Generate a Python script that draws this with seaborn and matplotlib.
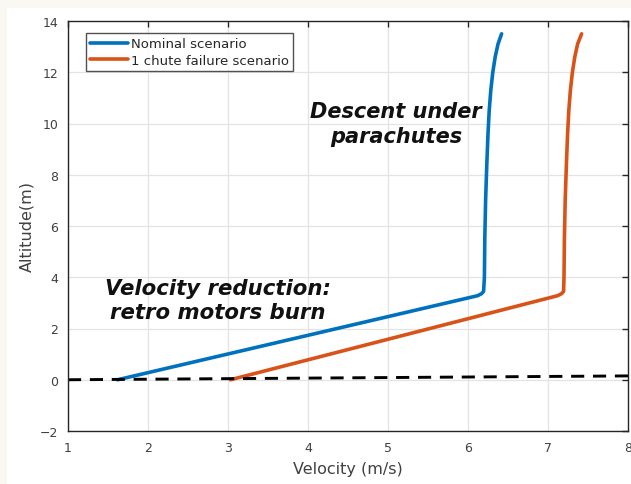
import matplotlib
matplotlib.use("Agg")
import matplotlib.pyplot as plt
import seaborn as sns
import pandas as pd
from matplotlib.patches import Rectangle

# Data
nominal_velocity = [1.62, 6.12, 6.17, 6.195, 6.205, 6.21, 6.22, 6.235, 6.25, 6.265, 6.285, 6.31, 6.34, 6.375, 6.42]
nominal_altitude = [0.0, 3.28, 3.36, 3.45, 4.0, 5.5, 7.0, 8.4, 9.6, 10.5, 11.3, 12.0, 12.6, 13.1, 13.5]
failure_velocity = [3.03, 7.12, 7.17, 7.195, 7.2, 7.205, 7.215, 7.23, 7.245, 7.26, 7.28, 7.305, 7.335, 7.37, 7.42]
failure_altitude = [0.0, 3.28, 3.36, 3.45, 4.0, 5.5, 7.0, 8.4, 9.6, 10.5, 11.3, 12.0, 12.6, 13.1, 13.5]
ground_velocity = [1.0, 8.0]
ground_altitude = [0.0, 0.15]

series_names = ["Nominal scenario", "1 chute failure scenario"]
x_ticks = [1, 2, 3, 4, 5, 6, 7, 8]
y_ticks = [-2, 0, 2, 4, 6, 8, 10, 12, 14]

sns.set_style("white")
plt.rcParams["font.family"] = ["DejaVu Sans"]

fig = plt.figure(figsize=(6.31, 4.85), dpi=100, facecolor="#f9f8f2")
fig.patches.append(Rectangle((7 / 631, 0), 1, 1 - 9 / 485, transform=fig.transFigure,
                             facecolor="white", edgecolor="none", zorder=-10))
ax = fig.add_axes([68 / 631, 1 - 432 / 485, (628 - 68) / 631, (432 - 22) / 485])
ax.set_zorder(5)

df = pd.concat([
    pd.DataFrame({"Velocity": nominal_velocity, "Altitude": nominal_altitude, "Scenario": series_names[0]}),
    pd.DataFrame({"Velocity": failure_velocity, "Altitude": failure_altitude, "Scenario": series_names[1]}),
])
sns.lineplot(data=df, x="Velocity", y="Altitude", hue="Scenario", sort=False,
             palette=["#0072bd", "#d95319"], linewidth=2.6, ax=ax, estimator=None)
ax.plot(ground_velocity, ground_altitude, color="black", linestyle=(0, (4.5, 3)), linewidth=2.1)

ax.set_xlim(1, 8)
ax.set_ylim(-2, 14)
ax.set_xticks(x_ticks)
ax.set_yticks(y_ticks)
ax.grid(True, color="#e3e3e3", linewidth=0.9)
ax.tick_params(direction="in", top=True, right=True, length=4, width=1,
               colors="#262626", labelsize=9, labelcolor="#404040", pad=7)
for s in ax.spines.values():
    s.set_color("#262626")
    s.set_linewidth(1.0)
ax.set_xlabel("Velocity (m/s)", fontsize=11.5, color="#404040", labelpad=5)
ax.set_ylabel("Altitude(m)", fontsize=11.5, color="#404040", labelpad=4)

leg = ax.legend(loc="upper left", bbox_to_anchor=(0.032, 0.97), fontsize=9.5, frameon=True,
                fancybox=False, edgecolor="#262626", handlelength=2.9, handletextpad=0.25,
                borderpad=0.3, labelspacing=0.25, borderaxespad=0)
leg.get_frame().set_linewidth(1.0)
for t in leg.get_texts():
    t.set_color("#262626")

ax.text(5.1, 10.0, "Descent under\nparachutes", ha="center", va="center",
        fontsize=15, fontweight="bold", fontstyle="italic", family=["DejaVu Sans"],
        linespacing=1.35, color="#111111")
ax.text(2.875, 3.13, "Velocity reduction:\nretro motors burn", ha="center", va="center",
        fontsize=15.3, fontweight="bold", fontstyle="italic", family=["DejaVu Sans"],
        linespacing=1.25, color="#111111")

fig.savefig("out.png", dpi=100, facecolor=fig.get_facecolor())
